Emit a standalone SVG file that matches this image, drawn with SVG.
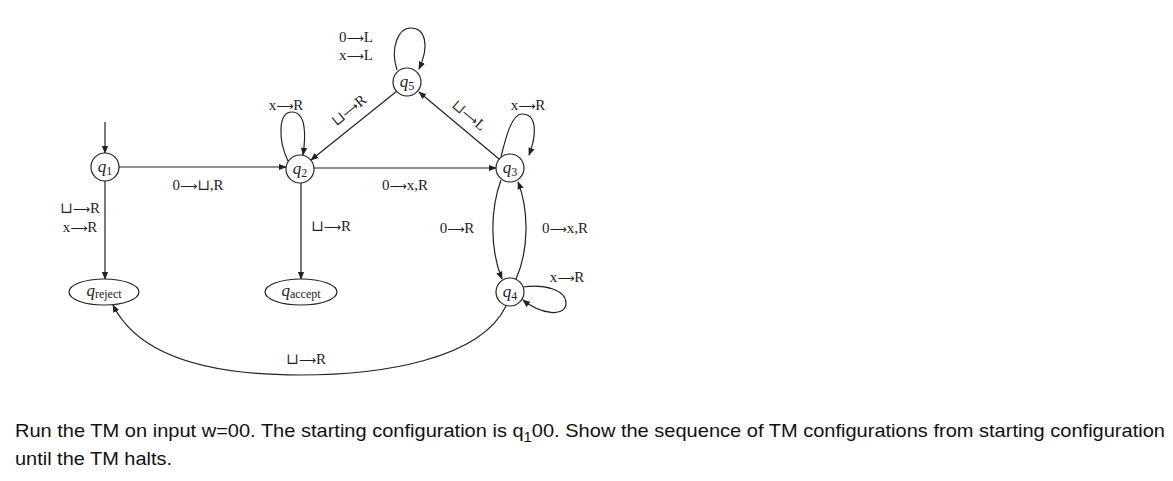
<svg xmlns="http://www.w3.org/2000/svg" width="1173" height="481" viewBox="0 0 1173 481">
<style>
.st{fill:#fff;stroke:#222;stroke-width:1.2}
.e{fill:none;stroke:#222;stroke-width:1.2}
.lb{font-family:"Liberation Serif","DejaVu Serif",serif;font-size:15px;fill:#222}
.a{font-family:"DejaVu Sans",sans-serif;font-size:12px}
.q{font-family:"Liberation Serif","DejaVu Serif",serif;font-style:italic;font-size:17px;fill:#222}
.sub{font-size:12px;font-style:normal}
.tx{font-family:"Liberation Sans",Arial,sans-serif;font-size:19px;fill:#111}
</style>
<defs>
<marker id="ar" viewBox="0 0 10 10" refX="9" refY="5" markerWidth="8" markerHeight="8" markerUnits="userSpaceOnUse" orient="auto">
<path d="M0,1 L10,5 L0,9 Z" fill="#222"/>
</marker>
</defs>
<rect width="1173" height="481" fill="#fff"/>
<g id="connectors">
<path class="e" d="M105,122 L105,153" marker-end="url(#ar)"/>
<path class="e" d="M119,167 L286,167" marker-end="url(#ar)"/>
<path class="e" d="M288,161 C278,140 278,112 292,112 C306,112 306,135 303,155" marker-end="url(#ar)"/>
<path class="e" d="M397,91 L311,160" marker-end="url(#ar)"/>
<path class="e" d="M314,168 L496,168" marker-end="url(#ar)"/>
<path class="e" d="M499,159 L419,92" marker-end="url(#ar)"/>
<path class="e" d="M397,70 C390,48 398,28 411,28 C425,28 430,45 419,69" marker-end="url(#ar)"/>
<path class="e" d="M501,157 C506,136 512,114 522,114 C537,114 537,134 529,155" marker-end="url(#ar)"/>
<path class="e" d="M501,180 C490,210 490,250 502,279" marker-end="url(#ar)"/>
<path class="e" d="M516,279 C529,250 529,210 518,182" marker-end="url(#ar)"/>
<path class="e" d="M523,287 C545,284 566,290 566,303 C566,318 540,314 523,300" marker-end="url(#ar)"/>
<path class="e" d="M105,181 L105,279" marker-end="url(#ar)"/>
<path class="e" d="M301,183 L301,279" marker-end="url(#ar)"/>
<path class="e" d="M506,306 C480,360 380,375 300,375 C220,375 140,360 113,305" marker-end="url(#ar)"/>
</g>
<g id="labels">
<text class="lb" x="198" y="190" text-anchor="middle">0<tspan class="a">⟶</tspan>⊔,R</text>
<text class="lb" x="286" y="110" text-anchor="middle">x<tspan class="a">⟶</tspan>R</text>
<text class="lb" x="352" y="114" text-anchor="middle" transform="rotate(-39 352 114)">⊔<tspan class="a">⟶</tspan>R</text>
<text class="lb" x="405" y="190" text-anchor="middle">0<tspan class="a">⟶</tspan>x,R</text>
<text class="lb" x="466" y="119" text-anchor="middle" transform="rotate(40 466 119)">⊔<tspan class="a">⟶</tspan>L</text>
<text class="lb" x="356" y="42" text-anchor="middle">0<tspan class="a">⟶</tspan>L</text>
<text class="lb" x="356" y="60" text-anchor="middle">x<tspan class="a">⟶</tspan>L</text>
<text class="lb" x="528" y="110" text-anchor="middle">x<tspan class="a">⟶</tspan>R</text>
<text class="lb" x="457" y="233" text-anchor="middle">0<tspan class="a">⟶</tspan>R</text>
<text class="lb" x="565" y="233" text-anchor="middle">0<tspan class="a">⟶</tspan>x,R</text>
<text class="lb" x="567" y="282" text-anchor="middle">x<tspan class="a">⟶</tspan>R</text>
<text class="lb" x="80" y="213" text-anchor="middle">⊔<tspan class="a">⟶</tspan>R</text>
<text class="lb" x="80" y="232" text-anchor="middle">x<tspan class="a">⟶</tspan>R</text>
<text class="lb" x="331" y="231" text-anchor="middle">⊔<tspan class="a">⟶</tspan>R</text>
<text class="lb" x="306" y="364" text-anchor="middle">⊔<tspan class="a">⟶</tspan>R</text>
</g>
<g id="q1"><circle class="st" cx="105" cy="167" r="14"/><text class="q" x="105" y="172" text-anchor="middle">q<tspan class="sub" dy="3">1</tspan></text></g>
<g id="q2"><circle class="st" cx="300" cy="169" r="14"/><text class="q" x="300" y="174" text-anchor="middle">q<tspan class="sub" dy="3">2</tspan></text></g>
<g id="q3"><circle class="st" cx="510" cy="168" r="14"/><text class="q" x="510" y="173" text-anchor="middle">q<tspan class="sub" dy="3">3</tspan></text></g>
<g id="q5"><circle class="st" cx="407" cy="82" r="14"/><text class="q" x="407" y="87" text-anchor="middle">q<tspan class="sub" dy="3">5</tspan></text></g>
<g id="q4"><circle class="st" cx="510" cy="292" r="14"/><text class="q" x="510" y="297" text-anchor="middle">q<tspan class="sub" dy="3">4</tspan></text></g>
<g id="qreject"><ellipse class="st" cx="104" cy="292" rx="35" ry="13"/><text class="q" x="104" y="296" text-anchor="middle">q<tspan class="sub" dy="2">reject</tspan></text></g>
<g id="qaccept"><ellipse class="st" cx="301" cy="292" rx="36" ry="13"/><text class="q" x="301" y="296" text-anchor="middle">q<tspan class="sub" dy="2">accept</tspan></text></g>
<g id="caption">
<text class="tx" x="15" y="437" textLength="1150" lengthAdjust="spacingAndGlyphs">Run the TM on input w=00. The starting configuration is q<tspan font-size="14" dy="5">1</tspan><tspan dy="-5">00. Show the sequence of TM configurations from starting configuration</tspan></text>
<text class="tx" x="15" y="465" textLength="157" lengthAdjust="spacingAndGlyphs">until the TM halts.</text>
</g>
</svg>
